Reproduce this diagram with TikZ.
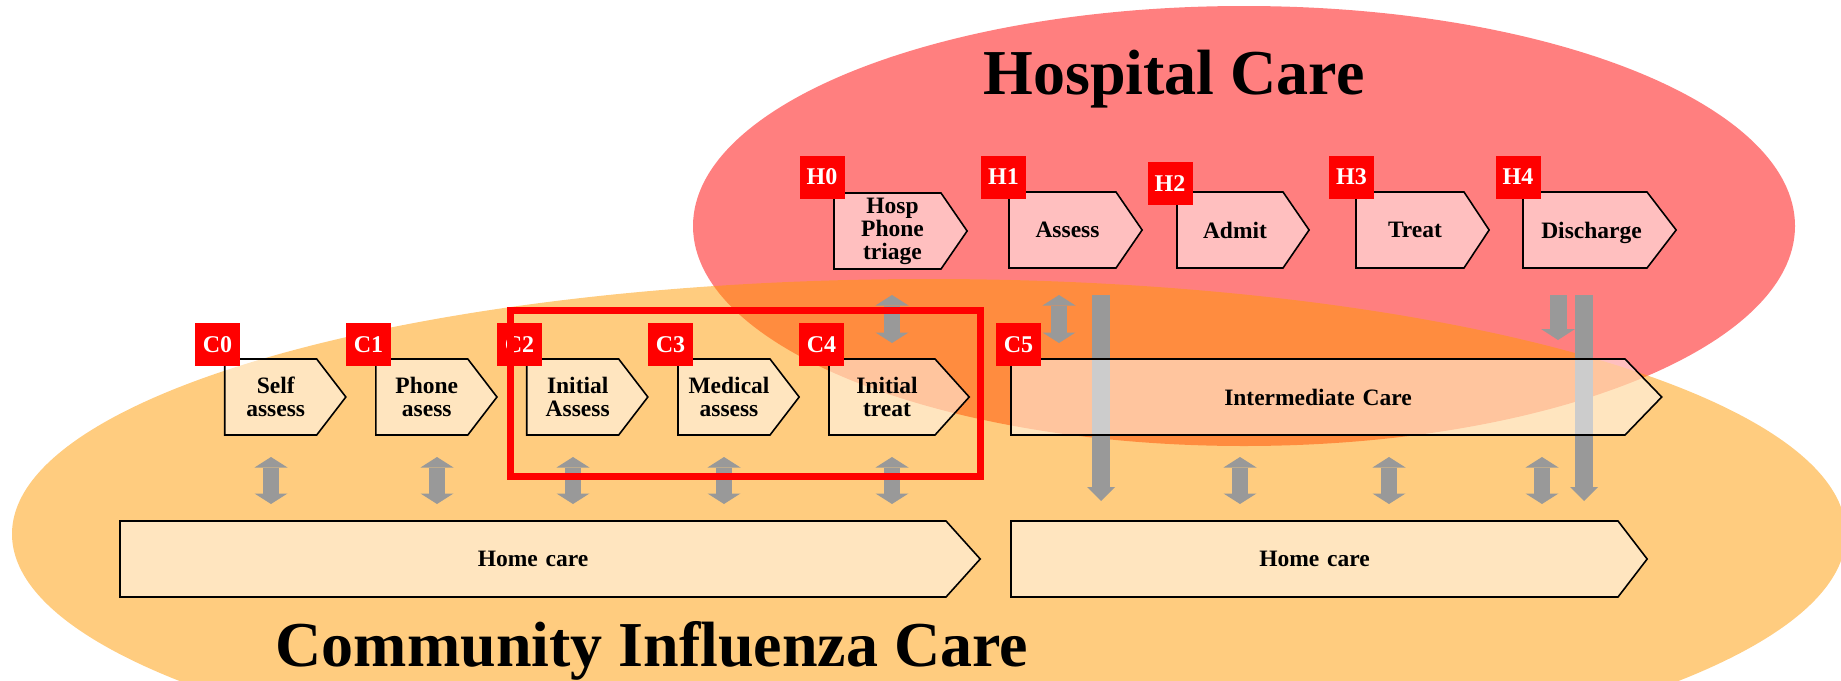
\documentclass[tikz,border=0pt]{standalone}
\usepackage{fontspec}
\setmainfont{Liberation Serif}
\usepackage{tikz}
\usetikzlibrary{shapes.symbols,arrows.meta}
\definecolor{hospred}{HTML}{FF0000}
\definecolor{commorange}{HTML}{FF9900}
\definecolor{arrowgray}{HTML}{999999}

\begin{document}
\begin{tikzpicture}[x=1pt,y=-1pt,
  stagebox/.style={shape=signal, signal to=east, draw=black, line width=1.6pt,
    fill=white, fill opacity=0.5, draw opacity=1, text opacity=1, inner sep=0pt,
    minimum height=76pt, align=center,
    font=\bfseries\fontsize{23.5}{23}\selectfont},
  nudge/.style={execute at begin node={\advance\leftskip by #1}},
  nudge/.default=10pt,
  tagbox/.style={fill=red, text=white, inner sep=0pt, minimum width=45pt,
    minimum height=43pt, font=\bfseries\fontsize{24}{24}\selectfont},
  twoway/.style={draw=arrowgray, line width=15.5pt,
    >={Triangle[width=33pt,length=10.5pt,line width=0pt]}, <->},
  oneway/.style={draw=arrowgray, line width=18pt,
    -{Triangle[width=28pt,length=14pt,line width=0pt]}}]
 \useasboundingbox (0,0) rectangle (1841,680);
 \clip (0,0) rectangle (1841,680);

 \fill[hospred, fill opacity=0.5] (1244,226) ellipse [x radius=551, y radius=220];
 \fill[commorange, fill opacity=0.5] (929,534) ellipse [x radius=917, y radius=255];

 \foreach \x in {271,437,573,724,892,1240,1389,1542}
   \draw[twoway] (\x,457) -- (\x,504);
 \draw[twoway] (892,295) -- (892,343);
 \draw[twoway] (1059,295) -- (1059,343);
 \draw[oneway] (1101,295) -- (1101,501);
 \draw[oneway] (1584,295) -- (1584,501);
 \draw[oneway, line width=17pt, -{Triangle[width=34pt,length=11pt,line width=0pt]}] (1558,295) -- (1558,340);

 % hospital stages
 \node[stagebox, nudge, text width=107pt, signal pointer angle=111] (h0) at (887.5,231) {Hosp\\Phone\\triage};
 \node[stagebox, nudge, text width=107pt, signal pointer angle=111] (h1) at (1062.5,230) {Assess};
 \node[stagebox, nudge, text width=106pt, signal pointer angle=111] (h2) at (1230,230) {Admit};
 \node[stagebox, nudge, text width=108pt, signal pointer angle=113] (h3) at (1410,230) {Treat};
 \node[stagebox, nudge=13pt, text width=124pt, text depth=0pt, signal pointer angle=105] (h4) at (1585,230) {Discharge};

 % community stages
 \node[stagebox, nudge, text width=92pt, signal pointer angle=105] (c0) at (270.7,397) {Self\\assess};
 \node[stagebox, nudge, text width=92pt, signal pointer angle=105] (c1) at (421.8,397) {Phone\\asess};
 \node[stagebox, nudge, text width=92pt, signal pointer angle=105] (c2) at (572.7,397) {Initial\\Assess};
 \node[stagebox, nudge, text width=92pt, signal pointer angle=105] (c3) at (724,397) {Medical\\assess};
 \node[stagebox, nudge, text width=106pt, signal pointer angle=96] (c4) at (882,397) {Initial\\treat};
 \node[stagebox, text width=614pt, signal pointer angle=92] (c5) at (1318,397) {Intermediate Care};
 \node[stagebox, text width=826pt, signal pointer angle=96] (home1) at (533,559) {Home care};
 \node[stagebox, text width=607pt, signal pointer angle=105] (home2) at (1314.5,559) {Home care};

 \node[tagbox] (tag-h0) at (822,177) {H0};
 \node[tagbox] (tag-h1) at (1003.5,177) {H1};
 \node[tagbox] (tag-h2) at (1170,183.5) {H2};
 \node[tagbox] (tag-h3) at (1351.5,177) {H3};
 \node[tagbox] (tag-h4) at (1518,177) {H4};
 \node[tagbox] (tag-c0) at (217.5,344.5) {C0};
 \node[tagbox] (tag-c1) at (368.5,344.5) {C1};
 \node[tagbox] (tag-c2) at (519.5,344.5) {C2};
 \node[tagbox] (tag-c3) at (670.5,344.5) {C3};
 \node[tagbox] (tag-c4) at (821.5,344.5) {C4};
 \node[tagbox] (tag-c5) at (1018.5,344.5) {C5};

 \draw[red, line width=7pt] (510.5,310) rectangle (980,476);

 \node[anchor=base, font=\bfseries\fontsize{64}{64}\selectfont] (hosp-title) at (1174,94) {Hospital Care};
 \node[anchor=base, font=\bfseries\fontsize{64}{64}\selectfont] (comm-title) at (652,666) {Community Influenza Care};
\end{tikzpicture}
\end{document}
